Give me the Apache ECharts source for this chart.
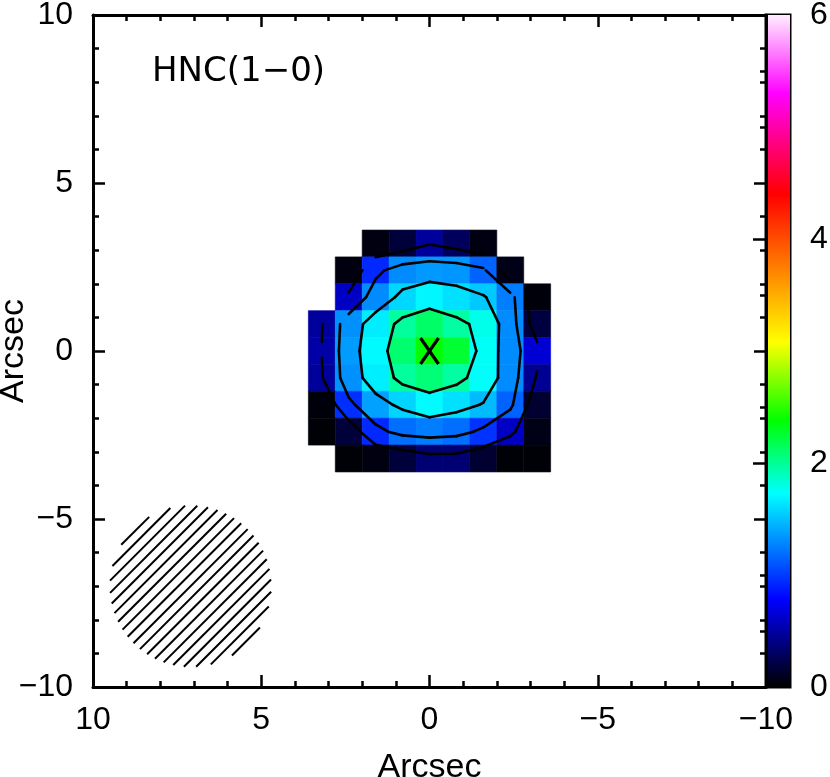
<!DOCTYPE html>
<html>
<head>
<meta charset="utf-8">
<script src="https://cdn.jsdelivr.net/npm/echarts@6/dist/echarts.min.js"></script>
<style>
  html, body { margin: 0; padding: 0; background: #fff; }
  #chart { width: 830px; height: 777px; }
</style>
</head>
<body>
<div id="chart"></div>
<script>
// ---- data ----
const xCenters = [3.2, 2.4, 1.6, 0.8, 0.0, -0.8, -1.6, -2.4, -3.2];
const yCenters = [3.2, 2.4, 1.6, 0.8, 0.0, -0.8, -1.6, -2.4, -3.2];
const pixelSize = 0.8;
const row_p32 = [null, null, 0.05, 0.18, 0.47, 0.28, 0.05, null, null];
const row_p24 = [null, 0.05, 0.93, 1.30, 1.35, 1.34, 1.15, 0.07, null];
const row_p16 = [null, 0.60, 1.30, 1.58, 1.70, 1.62, 1.53, 1.25, 0.03];
const row_p08 = [0.48, 1.32, 1.66, 1.98, 2.12, 1.97, 1.78, 1.30, 0.20];
const row_000 = [0.51, 1.36, 1.71, 2.10, 2.38, 2.25, 1.75, 1.30, 0.65];
const row_m08 = [0.47, 1.32, 1.67, 1.98, 2.08, 1.97, 1.74, 1.30, 0.45];
const row_m16 = [0.03, 0.95, 1.38, 1.57, 1.72, 1.62, 1.48, 1.15, 0.15];
const row_m24 = [0.02, 0.18, 0.93, 1.19, 1.25, 1.19, 0.97, 0.60, 0.07];
const row_m32 = [null, 0.02, 0.05, 0.18, 0.35, 0.35, 0.15, 0.02, 0.02];
const contourLevels = [0.5, 1.05, 1.5, 1.88];
const beamCenter = [7.1, -7.0];
const beamRadius = 2.4;
const markerPos = [0, 0];
const colorbarRange = [0, 6];
const colorStops = [
  [0.00, '#000000'],
  [0.78, '#0000ff'],
  [1.73, '#00ffff'],
  [2.38, '#00ff00'],
  [3.08, '#ffff00'],
  [4.40, '#ff0000'],
  [5.30, '#ff00ff'],
  [6.00, '#ffeeff']
];
const titleText = 'HNC(1\u22120)';
const axisName = 'Arcsec';

// ---- helpers ----
const grid = [row_p32, row_p24, row_p16, row_p08, row_000, row_m08, row_m16, row_m24, row_m32];

function hexToRgb(h) {
  return [parseInt(h.slice(1, 3), 16), parseInt(h.slice(3, 5), 16), parseInt(h.slice(5, 7), 16)];
}
function colorFor(v) {
  if (v <= colorStops[0][0]) return colorStops[0][1];
  for (let i = 1; i < colorStops.length; i++) {
    if (v <= colorStops[i][0]) {
      const a = colorStops[i - 1], b = colorStops[i];
      const t = (v - a[0]) / (b[0] - a[0]);
      const ca = hexToRgb(a[1]), cb = hexToRgb(b[1]);
      const c = ca.map((x, k) => Math.round(x + t * (cb[k] - x)));
      return 'rgb(' + c.join(',') + ')';
    }
  }
  return colorStops[colorStops.length - 1][1];
}

const cells = [];
grid.forEach((row, r) => row.forEach((v, c) => {
  if (v !== null) cells.push([xCenters[c], yCenters[r], v]);
}));

function contourSegments(level) {
  const segs = [];
  for (let r = 0; r < grid.length - 1; r++) {
    for (let c = 0; c < xCenters.length - 1; c++) {
      const corners = [[r, c], [r, c + 1], [r + 1, c + 1], [r + 1, c]];
      const vals = corners.map(([i, j]) => grid[i][j]);
      if (vals.some(v => v === null)) continue;
      const pts = corners.map(([i, j]) => [xCenters[j], yCenters[i]]);
      const above = vals.map(v => v >= level);
      const cross = [];
      for (let k = 0; k < 4; k++) {
        const a = k, b = (k + 1) % 4;
        if (above[a] !== above[b]) {
          const t = (level - vals[a]) / (vals[b] - vals[a]);
          cross[k] = [pts[a][0] + t * (pts[b][0] - pts[a][0]), pts[a][1] + t * (pts[b][1] - pts[a][1])];
        } else cross[k] = null;
      }
      const idx = [0, 1, 2, 3].filter(k => cross[k]);
      if (idx.length === 2) {
        segs.push([cross[idx[0]][0], cross[idx[0]][1], cross[idx[1]][0], cross[idx[1]][1]]);
      } else if (idx.length === 4) {
        const center = (vals[0] + vals[1] + vals[2] + vals[3]) / 4 >= level;
        for (let k = 0; k < 4; k++) {
          if (above[k] !== center) {
            const e1 = cross[(k + 3) % 4], e2 = cross[k];
            segs.push([e1[0], e1[1], e2[0], e2[1]]);
          }
        }
      }
    }
  }
  return segs;
}
const contourData = [];
contourLevels.forEach(L => contourSegments(L).forEach(s => contourData.push(s)));

const fmt = v => (v < 0 ? '\u2212' + (-v) : String(v));
const FONT = 'Liberation Sans';

const mainAxisCommon = {
  type: 'value', min: -10, max: 10, interval: 5,
  axisLine: { show: true, onZero: false, lineStyle: { color: '#000', width: 3 } },
  axisTick: { show: true, inside: true, length: 12, lineStyle: { color: '#000', width: 2.5 } },
  minorTick: { show: true, splitNumber: 5, length: 6, lineStyle: { color: '#000', width: 2.5 } },
  splitLine: { show: false }, minorSplitLine: { show: false }
};

const option = {
  animation: false,
  backgroundColor: '#fff',
  title: {
    text: titleText, left: 152, top: 55, padding: 0,
    textStyle: { fontFamily: 'DejaVu Sans', fontSize: 34, fontWeight: 'normal', color: '#000' }
  },
  grid: [
    { left: 93, top: 15, width: 673, height: 672, containLabel: false, outerBoundsMode: 'none' },
    { left: 766, top: 15, width: 24, height: 672, containLabel: false, outerBoundsMode: 'none',
      show: true, borderColor: '#000', borderWidth: 3, backgroundColor: 'transparent' }
  ],
  xAxis: [
    Object.assign({}, mainAxisCommon, {
      gridIndex: 0, position: 'bottom', inverse: true,
      axisLabel: { show: true, fontFamily: FONT, fontSize: 32, color: '#000', margin: 17, formatter: fmt },
      name: axisName, nameLocation: 'middle', nameGap: 64, nameMoveOverlap: false,
      nameTextStyle: { fontFamily: FONT, fontSize: 34, color: '#000' }
    }),
    Object.assign({}, mainAxisCommon, {
      gridIndex: 0, position: 'top', inverse: true, axisLabel: { show: false }
    }),
    { gridIndex: 1, type: 'value', min: 0, max: 1, show: false }
  ],
  yAxis: [
    Object.assign({}, mainAxisCommon, {
      gridIndex: 0, position: 'left',
      axisLabel: { show: true, fontFamily: FONT, fontSize: 32, color: '#000', margin: 20, formatter: fmt },
      name: axisName, nameLocation: 'middle', nameGap: 62, nameRotate: 90, nameMoveOverlap: false,
      nameTextStyle: { fontFamily: FONT, fontSize: 34, color: '#000' }
    }),
    Object.assign({}, mainAxisCommon, {
      gridIndex: 0, position: 'right', axisLabel: { show: false }
    }),
    {
      gridIndex: 1, type: 'value', position: 'right', min: colorbarRange[0], max: colorbarRange[1], interval: 2,
      axisLine: { show: false },
      axisTick: { show: true, inside: true, length: 13, lineStyle: { color: '#000', width: 2.5 } },
      minorTick: { show: true, splitNumber: 4, length: 6, lineStyle: { color: '#000', width: 2.5 } },
      splitLine: { show: false }, minorSplitLine: { show: false },
      axisLabel: { show: true, fontFamily: FONT, fontSize: 32, color: '#000', margin: 20 }
    }
  ],
  series: [
    {
      type: 'custom', name: 'cells', xAxisIndex: 0, yAxisIndex: 0, z: 1,
      data: cells,
      renderItem: function (params, api) {
        const x = api.value(0), y = api.value(1), v = api.value(2);
        const h = pixelSize / 2;
        const p1 = api.coord([x + h, y + h]);
        const p2 = api.coord([x - h, y - h]);
        const col = colorFor(v);
        return {
          type: 'rect',
          shape: { x: Math.min(p1[0], p2[0]), y: Math.min(p1[1], p2[1]), width: Math.abs(p2[0] - p1[0]), height: Math.abs(p2[1] - p1[1]) },
          style: { fill: col, stroke: col, lineWidth: 0.6 }
        };
      }
    },
    {
      type: 'custom', name: 'contours', xAxisIndex: 0, yAxisIndex: 0, z: 3,
      data: contourData,
      renderItem: function (params, api) {
        const p1 = api.coord([api.value(0), api.value(1)]);
        const p2 = api.coord([api.value(2), api.value(3)]);
        return {
          type: 'line',
          shape: { x1: p1[0], y1: p1[1], x2: p2[0], y2: p2[1] },
          style: { stroke: '#000', lineWidth: 2.6, lineCap: 'round' }
        };
      }
    },
    {
      type: 'custom', name: 'beam', xAxisIndex: 0, yAxisIndex: 0, z: 3,
      data: [[beamCenter[0], beamCenter[1], beamRadius]],
      renderItem: function (params, api) {
        const c = api.coord([api.value(0), api.value(1)]);
        const R = api.size([api.value(2), 0])[0];
        const step = 8.7;
        const children = [];
        const n = Math.floor(R / step);
        for (let k = -n; k <= n; k++) {
          const d = k * step;
          const hh = Math.sqrt(Math.max(0, R * R - d * d));
          if (hh < 2) continue;
          const cx = c[0] + d / Math.SQRT2, cy = c[1] + d / Math.SQRT2;
          const tx = 1 / Math.SQRT2, ty = -1 / Math.SQRT2;
          children.push({
            type: 'line',
            shape: { x1: cx - hh * tx, y1: cy - hh * ty, x2: cx + hh * tx, y2: cy + hh * ty },
            style: { stroke: '#000', lineWidth: 2 }
          });
        }
        return { type: 'group', children: children };
      }
    },
    {
      type: 'custom', name: 'marker', xAxisIndex: 0, yAxisIndex: 0, z: 4,
      data: [markerPos],
      renderItem: function (params, api) {
        const c = api.coord([api.value(0), api.value(1)]);
        const w = 9, hgt = 13;
        return {
          type: 'group',
          children: [
            { type: 'line', shape: { x1: c[0] - w, y1: c[1] - hgt, x2: c[0] + w, y2: c[1] + hgt }, style: { stroke: '#000', lineWidth: 3.2 } },
            { type: 'line', shape: { x1: c[0] - w, y1: c[1] + hgt, x2: c[0] + w, y2: c[1] - hgt }, style: { stroke: '#000', lineWidth: 3.2 } }
          ]
        };
      }
    },
    {
      type: 'custom', name: 'colorbar', xAxisIndex: 2, yAxisIndex: 2, z: 0,
      data: [[0, colorbarRange[0], 1, colorbarRange[1]]],
      renderItem: function (params, api) {
        const p1 = api.coord([api.value(0), api.value(1)]);
        const p2 = api.coord([api.value(2), api.value(3)]);
        const span = colorbarRange[1] - colorbarRange[0];
        const stops = colorStops.map(s => ({ offset: (s[0] - colorbarRange[0]) / span, color: s[1] }));
        return {
          type: 'rect',
          shape: { x: Math.min(p1[0], p2[0]), y: Math.min(p1[1], p2[1]), width: Math.abs(p2[0] - p1[0]), height: Math.abs(p2[1] - p1[1]) },
          style: { fill: new echarts.graphic.LinearGradient(0, 1, 0, 0, stops) }
        };
      }
    }
  ]
};

const chart = echarts.init(document.getElementById('chart'), null, { renderer: 'canvas' });
chart.setOption(option);
</script>
</body>
</html>
